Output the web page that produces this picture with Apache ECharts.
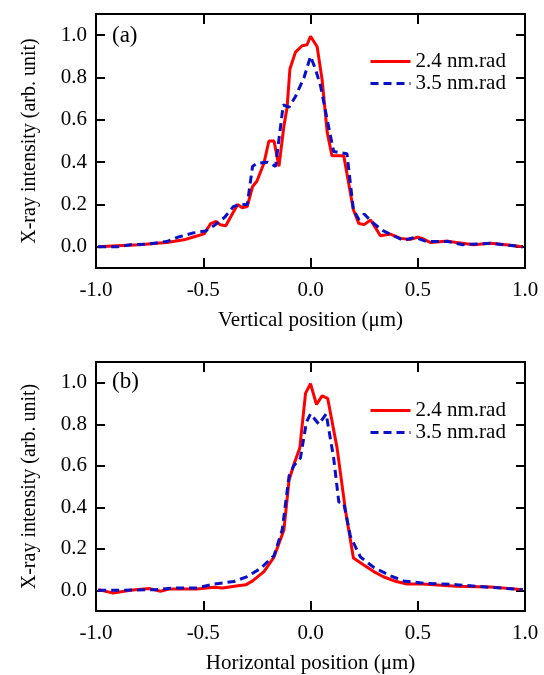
<!DOCTYPE html>
<html>
<head>
<meta charset="utf-8">
<script src="https://cdn.jsdelivr.net/npm/echarts@6/dist/echarts.min.js"></script>
<style>
  html, body { margin: 0; padding: 0; background: #fff; }
  #chart { width: 544px; height: 675px; }
</style>
</head>
<body>
<div id="chart"></div>
<script>
// profiles: position (um) and normalised intensity
const seriesNames = ['2.4 nm.rad', '3.5 nm.rad'];
const xTicks = [-1.0, -0.5, 0.0, 0.5, 1.0];
const yTicks = [0.0, 0.2, 0.4, 0.6, 0.8, 1.0];

// (a) vertical
const vRedX = [-0.99, -0.9, -0.8, -0.67, -0.59, -0.55, -0.496, -0.465, -0.44, -0.42, -0.395, -0.34, -0.318, -0.295, -0.27, -0.25, -0.217, -0.194, -0.17, -0.147, -0.124, -0.109, -0.096, -0.07, -0.039, -0.016, 0.0, 0.031, 0.054, 0.078, 0.10, 0.155, 0.20, 0.225, 0.25, 0.28, 0.326, 0.372, 0.42, 0.465, 0.50, 0.52, 0.56, 0.64, 0.68, 0.76, 0.84, 0.91, 0.99];
const vRedY = [0.0, 0.005, 0.01, 0.02, 0.033, 0.045, 0.061, 0.11, 0.12, 0.104, 0.10, 0.20, 0.185, 0.19, 0.285, 0.31, 0.395, 0.50, 0.50, 0.38, 0.57, 0.66, 0.84, 0.92, 0.95, 0.955, 0.995, 0.945, 0.79, 0.54, 0.43, 0.43, 0.175, 0.11, 0.105, 0.127, 0.052, 0.06, 0.04, 0.035, 0.045, 0.04, 0.02, 0.027, 0.02, 0.01, 0.017, 0.01, 0.0];
const vBlueX = [-0.99, -0.9, -0.84, -0.77, -0.71, -0.67, -0.62, -0.55, -0.49, -0.45, -0.40, -0.36, -0.33, -0.295, -0.27, -0.25, -0.20, -0.163, -0.127, -0.10, -0.07, -0.03, 0.0, 0.023, 0.047, 0.078, 0.108, 0.17, 0.20, 0.225, 0.25, 0.295, 0.34, 0.434, 0.487, 0.54, 0.64, 0.71, 0.84, 0.99];
const vBlueY = [0.0, 0.0, 0.01, 0.012, 0.02, 0.025, 0.045, 0.065, 0.075, 0.10, 0.14, 0.19, 0.20, 0.20, 0.38, 0.395, 0.40, 0.38, 0.67, 0.66, 0.71, 0.80, 0.90, 0.84, 0.76, 0.60, 0.45, 0.44, 0.175, 0.13, 0.155, 0.11, 0.075, 0.03, 0.045, 0.025, 0.025, 0.01, 0.017, 0.0];

// (b) horizontal
const hRedX = [-0.99, -0.92, -0.84, -0.75, -0.70, -0.66, -0.53, -0.45, -0.41, -0.33, -0.30, -0.27, -0.217, -0.17, -0.124, -0.10, -0.078, -0.05, -0.023, 0.0, 0.028, 0.054, 0.08, 0.124, 0.163, 0.20, 0.25, 0.295, 0.34, 0.40, 0.45, 0.52, 0.68, 0.84, 0.99];
const hRedY = [0.003, -0.013, 0.0, 0.008, -0.005, 0.006, 0.006, 0.014, 0.011, 0.023, 0.027, 0.045, 0.09, 0.16, 0.29, 0.53, 0.605, 0.685, 0.95, 0.995, 0.895, 0.937, 0.925, 0.685, 0.385, 0.155, 0.12, 0.09, 0.065, 0.042, 0.03, 0.03, 0.019, 0.016, 0.003];
const hBlueX = [-0.99, -0.87, -0.72, -0.63, -0.53, -0.45, -0.357, -0.295, -0.233, -0.17, -0.132, -0.10, -0.078, -0.047, -0.019, 0.0, 0.039, 0.073, 0.108, 0.132, 0.155, 0.186, 0.233, 0.295, 0.372, 0.434, 0.527, 0.68, 0.84, 0.99];
const hBlueY = [0.0, 0.0, 0.003, 0.011, 0.011, 0.03, 0.042, 0.066, 0.105, 0.167, 0.29, 0.55, 0.60, 0.637, 0.81, 0.85, 0.80, 0.85, 0.637, 0.425, 0.42, 0.26, 0.16, 0.11, 0.07, 0.045, 0.034, 0.027, 0.014, 0.003];

const pairs = (xs, ys) => xs.map((x, i) => [x, ys[i]]);

const font = 'Liberation Serif';
const red = '#ff0000';
const blue = '#0a0fc8';

const tickStyle = { color: '#000', width: 2 };

function xAxes(gridIndex, name) {
  return [
    {
      gridIndex, type: 'value', min: -1, max: 1, interval: 0.5,
      name, nameLocation: 'middle', nameGap: 42,
      nameTextStyle: { fontFamily: font, fontSize: 21, color: '#000' },
      axisLine: { onZero: false, lineStyle: tickStyle },
      axisTick: { inside: true, length: 10, lineStyle: tickStyle },
      axisLabel: { fontFamily: font, fontSize: 21, color: '#000', margin: 12,
        formatter: v => v.toFixed(1) },
      splitLine: { show: false }
    },
    {
      gridIndex, type: 'value', position: 'top', min: -1, max: 1, interval: 0.5,
      axisLine: { onZero: false, lineStyle: tickStyle },
      axisTick: { inside: true, length: 10, lineStyle: tickStyle },
      axisLabel: { show: false },
      splitLine: { show: false }
    }
  ];
}

function yAxes(gridIndex) {
  return [
    {
      gridIndex, type: 'value', min: -0.1, max: 1.1,
      name: 'X-ray intensity (arb. unit)', nameLocation: 'middle', nameGap: 56,
      nameTextStyle: { fontFamily: font, fontSize: 20, color: '#000' },
      axisLine: { onZero: false, lineStyle: tickStyle },
      axisTick: { inside: true, length: 9, customValues: yTicks, lineStyle: tickStyle },
      axisLabel: { fontFamily: font, fontSize: 21, color: '#000', margin: 9,
        customValues: yTicks, formatter: v => v.toFixed(1) },
      splitLine: { show: false }
    },
    {
      gridIndex, type: 'value', position: 'right', min: -0.1, max: 1.1,
      axisLine: { onZero: false, lineStyle: tickStyle },
      axisTick: { inside: true, length: 9, customValues: yTicks, lineStyle: tickStyle },
      axisLabel: { show: false },
      splitLine: { show: false }
    }
  ];
}

function legendAt(top) {
  return {
    data: seriesNames, orient: 'vertical', left: 364, top,
    itemWidth: 40, itemHeight: 14, itemGap: 1, selectedMode: false,
    itemStyle: { opacity: 0 },
    lineStyle: { width: 3 },
    textStyle: { fontFamily: font, fontSize: 21, color: '#000' }
  };
}

function line(name, data, xi, yi, color, dashed) {
  return {
    name, type: 'line', data, xAxisIndex: xi, yAxisIndex: yi,
    showSymbol: false, symbol: 'none', animation: false,
    lineStyle: { color, width: 3, type: dashed ? [8, 5] : 'solid' },
    itemStyle: { color }
  };
}

const chart = echarts.init(document.getElementById('chart'));

chart.setOption({
  backgroundColor: '#fff',
  animation: false,
  grid: [
    { left: 96, right: 19, top: 14, height: 254 },
    { left: 96, right: 19, top: 362, height: 255 }
  ],
  xAxis: [...xAxes(0, 'Vertical position (\u03bcm)'), ...xAxes(1, 'Horizontal position (\u03bcm)')],
  yAxis: [...yAxes(0), ...yAxes(1)],
  legend: [legendAt(46), legendAt(395)],
  graphic: [
    { type: 'text', left: 112, top: 24, style: { text: '(a)', font: '23px "Liberation Serif"', fill: '#000' } },
    { type: 'text', left: 112, top: 370, style: { text: '(b)', font: '23px "Liberation Serif"', fill: '#000' } }
  ],
  series: [
    line(seriesNames[0], pairs(vRedX, vRedY), 0, 0, red, false),
    line(seriesNames[1], pairs(vBlueX, vBlueY), 0, 0, blue, true),
    line(seriesNames[0], pairs(hRedX, hRedY), 2, 2, red, false),
    line(seriesNames[1], pairs(hBlueX, hBlueY), 2, 2, blue, true)
  ]
});
</script>
</body>
</html>
